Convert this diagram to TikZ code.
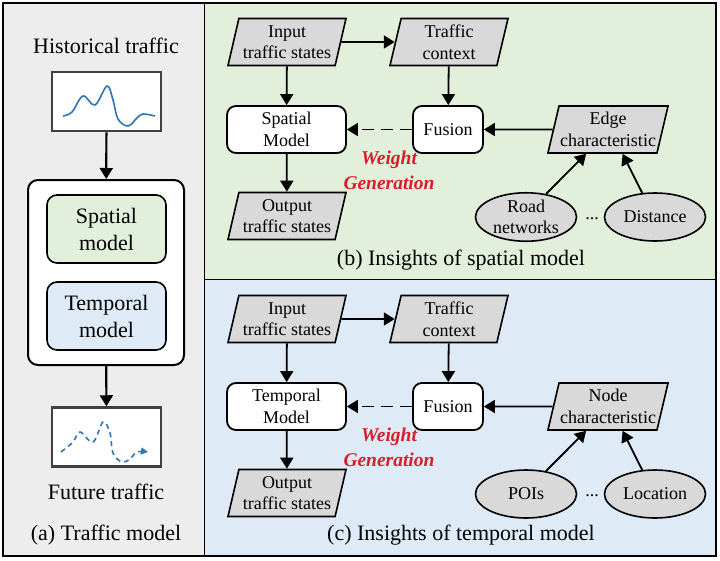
\documentclass[tikz,border=0pt]{standalone}
\usepackage{fontspec}
\setmainfont{Liberation Serif}
\usetikzlibrary{shapes.geometric,arrows.meta,calc}
\definecolor{pgray}{HTML}{EDEDED}
\definecolor{pgreen}{HTML}{E2EFDA}
\definecolor{pblue}{HTML}{DEEBF7}
\definecolor{boxgray}{HTML}{D9D9D9}
\definecolor{curveblue}{HTML}{2E75B6}
\definecolor{wgred}{HTML}{D81E2C}
\definecolor{framegray}{HTML}{404040}
\newcommand\myNodeFont{\fontsize{18}{21.6}\selectfont}
\newcommand\myBigFont{\fontsize{22}{27}\selectfont}
\tikzset{
 arr/.style={line width=1.8pt, -{Triangle[length=11pt,width=13pt]}},
 darr/.style={arr, dash pattern=on 12pt off 7pt},
 para/.style={trapezium, trapezium left angle=73, trapezium right angle=107,
   trapezium stretches body, minimum width=118pt, minimum height=47pt,
   inner sep=1pt, fill=boxgray, draw, line width=1.6pt, align=center, font=\myNodeFont},
 rbox/.style={rectangle, rounded corners=9pt, fill=white, draw, line width=1.8pt,
   minimum height=47pt, align=center, font=\myNodeFont, inner sep=0pt},
 ell/.style={ellipse, fill=boxgray, draw, line width=1.6pt, minimum width=101pt,
   minimum height=48pt, inner sep=0pt, align=center, font=\myNodeFont},
 wg/.style={text=wgred, font=\fontsize{19.5}{25}\selectfont\bfseries\itshape, align=center},
 capt/.style={font=\myBigFont},
 plotbox/.style={draw=framegray, line width=2.5pt, fill=white, minimum width=109pt, minimum height=59pt, inner sep=0pt},
 modbox/.style={draw, line width=1.6pt, rounded corners=10pt, minimum width=119pt, minimum height=68pt, align=center, font=\myBigFont},
 dotsty/.style={font=\myNodeFont}
}
\begin{document}
\begin{tikzpicture}[x=1pt,y=-1pt]
\useasboundingbox (0,0) rectangle (720,560);
% panels
\fill[pgray] (3,3) rectangle (204,556);
\fill[pgreen] (204,3) rectangle (716,279);
\fill[pblue] (204,279) rectangle (716,556);
\draw[line width=0.8pt] (204,3) -- (204,556);
\draw[line width=0.8pt] (204,279) -- (716,279);
\draw[line width=1.2pt] (3,3) rectangle (716,556);

% ---------- (a) ----------
\node[capt] (histlabel) at (106,46) {Historical traffic};
\node[plotbox] (hist) at (106.5,101.5) {};
\draw[curveblue, line width=1.6pt] plot[smooth, tension=0.6] coordinates
 {(63,116) (72,112) (83,96) (95,105) (107,86) (113,100) (118,119) (128,126) (137,118) (143,114) (155,116)};
\node[draw, line width=2pt, rounded corners=10pt, fill=white, minimum width=156pt, minimum height=185pt] (big) at (106,272.5) {};
\node[modbox, fill=pgreen] (spat) at (106.5,229) {Spatial\\model};
\node[modbox, fill=pblue] (temp) at (106.5,316) {Temporal\\model};
\node[plotbox] (fut) at (106.5,437) {};
\draw[curveblue, line width=1.6pt, dash pattern=on 5pt off 4pt, -{Triangle[length=7pt,width=7pt]}] plot[smooth, tension=0.6] coordinates
 {(61,452) (73,442) (80,432) (93,442) (103,422) (110,433) (113,453) (122,462) (130,459) (137,452) (148,452)};
\draw[arr, line width=2.2pt] (hist) -- (big);
\draw[arr, line width=2.2pt] (big) -- (fut);
\node[capt] (futlabel) at (106,492) {Future traffic};
\node[capt] (capa) at (106,535) {(a) Traffic model};

% ---------- (b) ----------
\node[para] (in1) at (287,42) {Input\\traffic states};
\node[para] (ctx1) at (449,42) {Traffic\\context};
\node[rbox, minimum width=119pt] (sm1) at (286.5,129.5) {Spatial\\Model};
\node[rbox, minimum width=70pt] (fu1) at (448,129.5) {Fusion};
\node[para] (out1) at (287,216) {Output\\traffic states};
\node[para] (edge1) at (608,129.5) {Edge\\characteristic};
\node[ell] (road1) at (526,217) {Road\\networks};
\node[ell] (dist1) at (655,217) {Distance};
\node[dotsty] (dots1) at (592,219) {...};
\node[wg] (wg1) at (389,170) {Weight\\Generation};
\node[capt] (capb) at (461,260) {(b) Insights of spatial model};
\draw[arr] (in1) -- (ctx1);
\draw[arr] (in1) -- (sm1);
\draw[arr] (ctx1) -- (fu1);
\draw[darr] (fu1) -- (sm1);
\draw[arr] (edge1) -- (fu1);
\draw[arr] (road1.49) -- (edge1.228);
\draw[arr] (dist1.118) -- (edge1.301);
\draw[arr] (sm1) -- (out1);

% ---------- (c) ----------
\node[para] (in2) at (287,319) {Input\\traffic states};
\node[para] (ctx2) at (449,319) {Traffic\\context};
\node[rbox, minimum width=119pt] (sm2) at (286.5,406.5) {Temporal\\Model};
\node[rbox, minimum width=70pt] (fu2) at (448,406.5) {Fusion};
\node[para] (out2) at (287,493) {Output\\traffic states};
\node[para] (node2) at (608,406.5) {Node\\characteristic};
\node[ell] (poi2) at (526,494) {POIs};
\node[ell] (loc2) at (655,494) {Location};
\node[dotsty] (dots2) at (592,496) {...};
\node[wg] (wg2) at (389,447) {Weight\\Generation};
\node[capt] (capc) at (461,535) {(c) Insights of temporal model};
\draw[arr] (in2) -- (ctx2);
\draw[arr] (in2) -- (sm2);
\draw[arr] (ctx2) -- (fu2);
\draw[darr] (fu2) -- (sm2);
\draw[arr] (node2) -- (fu2);
\draw[arr] (poi2.49) -- (node2.228);
\draw[arr] (loc2.118) -- (node2.301);
\draw[arr] (sm2) -- (out2);
\end{tikzpicture}
\end{document}
